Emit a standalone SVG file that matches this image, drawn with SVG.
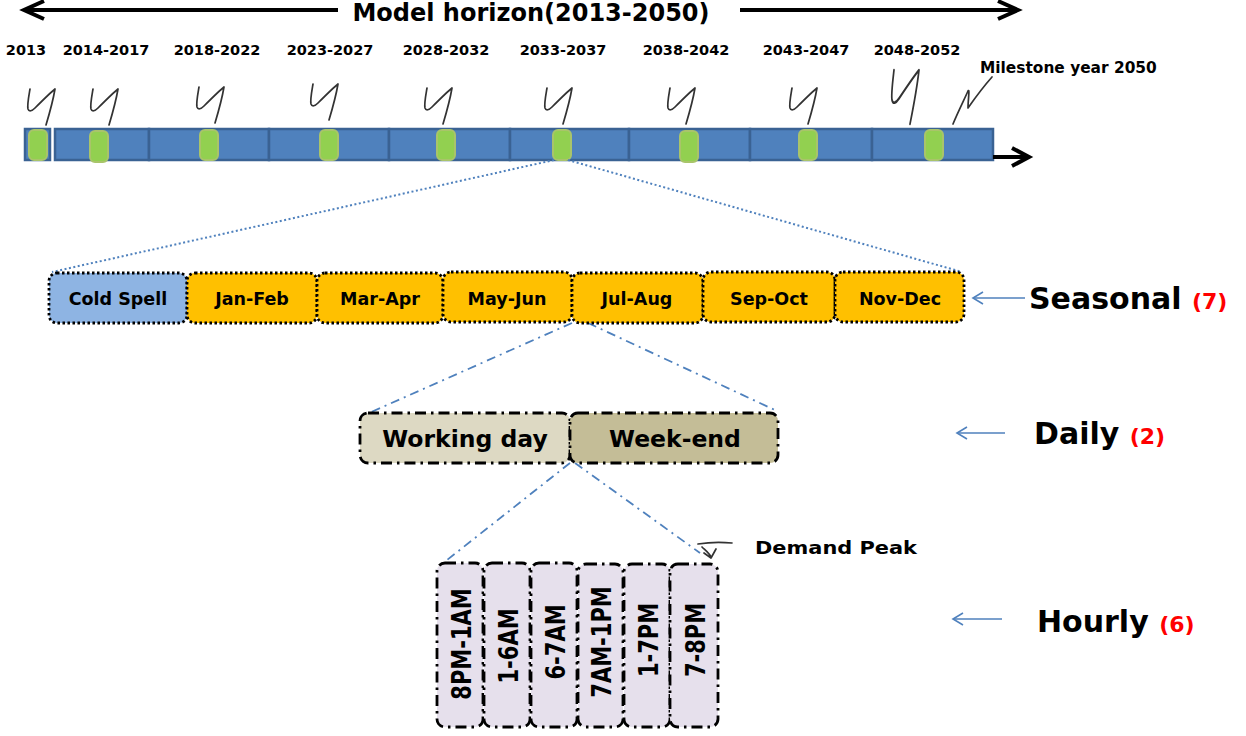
<svg xmlns="http://www.w3.org/2000/svg" width="1246" height="736" viewBox="0 0 1246 736">
<style>
text{font-family:"DejaVu Sans","Liberation Sans",sans-serif;font-weight:bold;fill:#000}
.yr{font-size:14.5px;text-anchor:middle}
.sea{font-size:17.5px;text-anchor:middle}
.day{font-size:23.5px;text-anchor:middle}
.hr{font-size:21px;text-anchor:middle}
.lvl{font-size:30px}
.num{fill:#FF0000;font-size:22px}
.seg{fill:#4F81BD;stroke:#3A6293;stroke-width:2.5}
.cyl{fill:#92D050;stroke:#A9C46A;stroke-width:2}
.sq,use{fill:none;stroke:#333;stroke-width:1.7;stroke-linecap:round;stroke-linejoin:round}
.sbox{stroke:#000;stroke-width:2.8;stroke-dasharray:2.5 2.5}
.dbox{stroke:#000;stroke-width:2.8;stroke-dasharray:11 5 2.5 5}
.blk{stroke:#000;stroke-width:4;fill:none}
.dot{stroke:#4F81BD;stroke-width:2;stroke-dasharray:2 2.5;fill:none}
.dd{stroke:#4F81BD;stroke-width:1.8;stroke-dasharray:9 5 2 5;fill:none}
.ptr{stroke:#4F81BD;stroke-width:1.6;fill:none}
</style>
<defs>
<path id="ysq" d="M-16,-36 C-17,-30 -19,-20 -18,-16 C-17,-13 -14,-14 -11,-17 C-4,-24 4,-32 9,-36 C7,-24 3,-10 0,0"/>
</defs>

<g id="horizon">
<line class="blk" x1="24" y1="10" x2="338" y2="10"/>
<polyline class="blk" points="44,1 24,10 44,19"/>
<line class="blk" x1="740" y1="10" x2="1018" y2="10"/>
<polyline class="blk" points="998,1 1018,10 998,19"/>
<text x="531" y="21" font-size="24" text-anchor="middle">Model horizon(2013-2050)</text>
</g>

<g id="years">
<text class="yr" x="26" y="55">2013</text>
<text class="yr" x="106" y="55">2014-2017</text>
<text class="yr" x="217" y="55">2018-2022</text>
<text class="yr" x="330" y="55">2023-2027</text>
<text class="yr" x="446" y="55">2028-2032</text>
<text class="yr" x="563" y="55">2033-2037</text>
<text class="yr" x="686" y="55">2038-2042</text>
<text class="yr" x="806" y="55">2043-2047</text>
<text class="yr" x="917" y="55">2048-2052</text>
<text x="980" y="73" font-size="15.4">Milestone year 2050</text>
</g>

<g id="squiggles">
<use href="#ysq" transform="translate(46,125)"/>
<use href="#ysq" transform="translate(109,125)"/>
<use href="#ysq" transform="translate(215,123)"/>
<use href="#ysq" transform="translate(329,120)"/>
<use href="#ysq" transform="translate(443,124)"/>
<use href="#ysq" transform="translate(563,124)"/>
<use href="#ysq" transform="translate(686,124)"/>
<use href="#ysq" transform="translate(808,124)"/>
<use href="#ysq" transform="translate(910,124) scale(1,1.5)"/>
<path class="sq" d="M953,124 C958,112 964,100 968,91 C970,88 968,100 968,108 C975,98 984,86 992,77"/>
<path class="sq" d="M698,544 C710,542 722,542 732,543 M702,547 C705,550 709,553 711,557 M704,553 L711,558 L716,549"/>
</g>

<g id="timeline">
<rect class="seg" x="25" y="129" width="25" height="31"/>
<rect class="seg" x="55" y="129" width="94" height="31"/>
<rect class="seg" x="149" y="129" width="120" height="31"/>
<rect class="seg" x="269" y="129" width="120" height="31"/>
<rect class="seg" x="389" y="129" width="121" height="31"/>
<rect class="seg" x="510" y="129" width="119" height="31"/>
<rect class="seg" x="629" y="129" width="121" height="31"/>
<rect class="seg" x="750" y="129" width="122" height="31"/>
<rect class="seg" x="872" y="129" width="121" height="31"/>
<line class="blk" x1="993" y1="157" x2="1028" y2="157" stroke-width="3.5"/>
<polyline class="blk" points="1012,148 1029,157 1012,166" stroke-width="3.5"/>
<rect class="cyl" x="29" y="130" width="18" height="30" rx="5"/>
<rect class="cyl" x="90" y="131" width="18" height="31" rx="5"/>
<rect class="cyl" x="200" y="130" width="18" height="30" rx="5"/>
<rect class="cyl" x="320" y="130" width="18" height="30" rx="5"/>
<rect class="cyl" x="437" y="130" width="18" height="30" rx="5"/>
<rect class="cyl" x="553" y="130" width="18" height="30" rx="5"/>
<rect class="cyl" x="680" y="131" width="18" height="31" rx="5"/>
<rect class="cyl" x="799" y="130" width="18" height="30" rx="5"/>
<rect class="cyl" x="925" y="130" width="18" height="30" rx="5"/>
</g>

<g id="connectors">
<line class="dot" x1="554" y1="160" x2="52" y2="272"/>
<line class="dot" x1="568" y1="160" x2="962" y2="272"/>
<line class="dd" x1="572" y1="323" x2="360" y2="417"/>
<line class="dd" x1="588" y1="323" x2="777" y2="411"/>
<line class="dd" x1="570" y1="463" x2="447" y2="560"/>
<line class="dd" x1="575" y1="463" x2="700" y2="553"/>
<line class="ptr" x1="1025" y1="298" x2="973" y2="298"/>
<polyline class="ptr" points="983,292 973,298 983,304"/>
<line class="ptr" x1="1005" y1="433" x2="957" y2="433"/>
<polyline class="ptr" points="967,427 957,433 967,439"/>
<line class="ptr" x1="1002" y1="619" x2="953" y2="619"/>
<polyline class="ptr" points="963,613 953,619 963,625"/>
</g>

<g id="seasonal">
<g id="s-cold"><rect class="sbox" x="49" y="273" width="138" height="50" rx="8" fill="#8EB4E3"/><text class="sea" x="118" y="305">Cold Spell</text></g>
<g id="s-janfeb"><rect class="sbox" x="187" y="273" width="130" height="50" rx="8" fill="#FFC000"/><text class="sea" x="252" y="305">Jan-Feb</text></g>
<g id="s-marapr"><rect class="sbox" x="317" y="273" width="126" height="50" rx="8" fill="#FFC000"/><text class="sea" x="380" y="305">Mar-Apr</text></g>
<g id="s-mayjun"><rect class="sbox" x="443" y="272" width="129" height="50" rx="8" fill="#FFC000"/><text class="sea" x="507" y="305">May-Jun</text></g>
<g id="s-julaug"><rect class="sbox" x="572" y="273" width="131" height="50" rx="8" fill="#FFC000"/><text class="sea" x="637" y="305">Jul-Aug</text></g>
<g id="s-sepoct"><rect class="sbox" x="703" y="272" width="132" height="50" rx="8" fill="#FFC000"/><text class="sea" x="769" y="305">Sep-Oct</text></g>
<g id="s-novdec"><rect class="sbox" x="835" y="272" width="129" height="50" rx="8" fill="#FFC000"/><text class="sea" x="900" y="305">Nov-Dec</text></g>
</g>

<g id="daily">
<g id="d-work"><rect class="dbox" x="360" y="413" width="210" height="50" rx="8" fill="#DDD9C3"/><text class="day" x="465" y="447">Working day</text></g>
<g id="d-weekend"><rect class="dbox" x="570" y="413" width="208" height="50" rx="8" fill="#C4BD97"/><text class="day" x="675" y="447">Week-end</text></g>
</g>

<g id="hourly">
<g id="h1"><rect class="dbox" x="437" y="563" width="46" height="164" rx="8" fill="#E6E0EC"/><text class="hr" transform="translate(471,644) rotate(-90) scale(1,1.3)">8PM-1AM</text></g>
<g id="h2"><rect class="dbox" x="484" y="563" width="46" height="164" rx="8" fill="#E6E0EC"/><text class="hr" transform="translate(518,646) rotate(-90) scale(1,1.3)">1-6AM</text></g>
<g id="h3"><rect class="dbox" x="531" y="563" width="46" height="164" rx="8" fill="#E6E0EC"/><text class="hr" transform="translate(565,642) rotate(-90) scale(1,1.3)">6-7AM</text></g>
<g id="h4"><rect class="dbox" x="578" y="564" width="45" height="163" rx="8" fill="#E6E0EC"/><text class="hr" transform="translate(611,642) rotate(-90) scale(1,1.3)">7AM-1PM</text></g>
<g id="h5"><rect class="dbox" x="624" y="564" width="46" height="163" rx="8" fill="#E6E0EC"/><text class="hr" transform="translate(658,640) rotate(-90) scale(1,1.3)">1-7PM</text></g>
<g id="h6"><rect class="dbox" x="670" y="564" width="48" height="163" rx="8" fill="#E6E0EC"/><text class="hr" transform="translate(705,640) rotate(-90) scale(1,1.3)">7-8PM</text></g>
<text x="755" y="554" font-size="17" textLength="162" lengthAdjust="spacingAndGlyphs">Demand Peak</text>
</g>

<g id="levels">
<text class="lvl" x="1029" y="309">Seasonal <tspan class="num">(7)</tspan></text>
<text class="lvl" x="1034" y="444">Daily <tspan class="num">(2)</tspan></text>
<text class="lvl" x="1037" y="632">Hourly <tspan class="num">(6)</tspan></text>
</g>
</svg>
